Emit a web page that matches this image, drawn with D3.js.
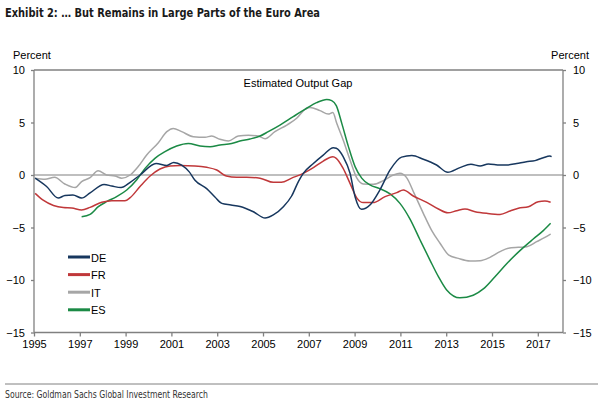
<!DOCTYPE html>
<html><head><meta charset="utf-8">
<script src="https://cdn.jsdelivr.net/npm/d3@7"></script>
<style>
body{margin:0;background:#fff;}
svg{display:block;}
.ax{font-family:"Liberation Sans",Arial,sans-serif;font-size:11px;fill:#000;}
</style></head>
<body><svg id="c" width="603" height="403"></svg>
<script>
const deData=[[1995.05,-0.3],[1995.55,-1.1],[1996.06,-2.2],[1996.35,-1.95],[1996.7,-1.9],[1997.08,-2.2],[1997.45,-1.7],[1998.06,-0.9],[1998.4,-1.05],[1998.8,-1.2],[1999.2,-0.7],[1999.63,0],[2000.33,1.1],[2000.8,0.9],[2001.1,1.2],[2001.45,0.95],[2001.78,0.3],[2002.03,-0.5],[2002.54,-1.3],[2002.9,-2.1],[2003.2,-2.7],[2003.6,-2.85],[2004.0,-3.0],[2004.58,-3.5],[2005.09,-4.1],[2005.45,-3.8],[2005.9,-3.0],[2006.25,-2.0],[2006.55,-0.6],[2006.76,0.16],[2007.2,1.1],[2007.63,1.9],[2008.07,2.6],[2008.2,2.55],[2008.5,1.75],[2008.8,0.16],[2009.02,-2.07],[2009.3,-3.27],[2009.67,-2.86],[2010.1,-1.43],[2010.55,0.48],[2011.05,1.7],[2011.5,1.85],[2012.0,1.5],[2012.58,0.95],[2013.07,0.26],[2013.6,0.7],[2014.08,1.02],[2014.48,0.86],[2014.84,1.05],[2015.35,0.95],[2015.64,0.95],[2016.08,1.1],[2016.5,1.27],[2016.88,1.37],[2017.24,1.65],[2017.53,1.8],[2017.6,1.74]];
const frData=[[1995.05,-1.75],[1995.4,-2.4],[1995.85,-2.9],[1996.28,-3.1],[1996.65,-3.14],[1997.08,-3.33],[1997.45,-3.08],[1997.96,-2.6],[1998.4,-2.45],[1998.97,-2.45],[1999.2,-2.16],[1999.63,-1.1],[2000.07,-0.1],[2000.5,0.57],[2000.94,0.86],[2001.38,0.9],[2002.03,0.86],[2002.54,0.73],[2002.98,0.48],[2003.4,-0.1],[2003.85,-0.22],[2004.29,-0.22],[2004.87,-0.3],[2005.45,-0.7],[2005.8,-0.7],[2006.25,-0.3],[2006.76,0.16],[2007.2,0.7],[2007.63,1.33],[2008.05,1.74],[2008.2,1.59],[2008.5,0.63],[2008.8,-0.8],[2009.1,-2.2],[2009.38,-2.63],[2009.8,-2.63],[2010.33,-2.06],[2010.84,-1.68],[2011.13,-1.43],[2011.56,-2.0],[2012.15,-2.6],[2012.66,-3.24],[2013.07,-3.6],[2013.46,-3.4],[2013.82,-3.24],[2014.26,-3.49],[2014.77,-3.65],[2015.35,-3.75],[2015.79,-3.43],[2016.15,-3.17],[2016.59,-3.02],[2017.02,-2.54],[2017.31,-2.48],[2017.56,-2.6]];
const itData=[[1995.05,-0.3],[1995.48,-0.4],[1995.9,-0.22],[1996.35,-0.86],[1996.8,-1.2],[1997.08,-0.63],[1997.45,-0.25],[1997.8,0.4],[1998.17,0],[1998.54,-0.1],[1998.83,-0.3],[1999.2,0],[1999.55,0.8],[1999.92,1.9],[2000.43,3.08],[2000.8,4.13],[2001.08,4.44],[2001.45,4.13],[2001.96,3.65],[2002.47,3.6],[2002.76,3.71],[2003.12,3.4],[2003.49,3.24],[2003.92,3.71],[2004.36,3.78],[2004.8,3.71],[2005.09,3.45],[2005.52,4.13],[2006.04,4.76],[2006.47,5.4],[2006.83,6.25],[2007.05,6.44],[2007.49,6.13],[2007.85,5.8],[2008.05,5.95],[2008.22,4.92],[2008.5,3.33],[2008.8,1.43],[2009.1,-0.3],[2009.38,-0.86],[2009.82,-0.89],[2010.25,-0.54],[2010.69,0],[2010.98,0.16],[2011.27,-0.25],[2011.6,-1.75],[2012.0,-3.65],[2012.37,-5.3],[2012.73,-6.5],[2013.1,-7.6],[2013.53,-7.94],[2014.04,-8.19],[2014.48,-8.16],[2014.91,-7.84],[2015.35,-7.3],[2015.71,-6.98],[2016.15,-6.89],[2016.52,-6.83],[2016.95,-6.35],[2017.31,-5.94],[2017.56,-5.62]];
const esData=[[1997.08,-3.97],[1997.45,-3.75],[1997.81,-3.02],[1998.17,-2.54],[1998.61,-2.06],[1999.05,-1.43],[1999.48,-0.48],[1999.85,0.63],[2000.28,1.59],[2000.72,2.22],[2001.23,2.76],[2001.74,3.0],[2002.25,2.76],[2002.69,2.7],[2003.12,2.86],[2003.63,3.0],[2003.99,3.24],[2004.43,3.43],[2004.87,3.71],[2005.23,4.13],[2005.74,4.76],[2006.32,5.56],[2006.83,6.25],[2007.34,6.89],[2007.78,7.2],[2008.0,7.08],[2008.2,6.6],[2008.44,4.92],[2008.73,2.7],[2009.02,0.8],[2009.31,-0.3],[2009.67,-0.95],[2010.1,-1.3],[2010.55,-1.8],[2010.98,-2.7],[2011.42,-4.2],[2011.86,-6.19],[2012.29,-8.1],[2012.66,-9.68],[2013.02,-10.95],[2013.6,-11.7],[2014.18,-11.45],[2014.62,-10.85],[2015.13,-9.68],[2015.64,-8.45],[2016.22,-7.2],[2016.8,-6.1],[2017.24,-5.3],[2017.56,-4.6]];
const seriesNames=["DE","FR","IT","ES"];
const seriesColors=["#17375e","#c0383a","#a6a6a6","#1b8a45"];
const xTicks=[1995,1997,1999,2001,2003,2005,2007,2009,2011,2013,2015,2017];
const yTicks=[-15,-10,-5,0,5,10];
const allSeries=[deData,frData,itData,esData];

const svg=d3.select("#c");
const L=34,R=563,T=70,B=332.5;
const x=d3.scaleLinear().domain([1995,2018.1]).range([L,R]);
const y=d3.scaleLinear().domain([-15,10]).range([B,T]);
const grey="#808080";
const narrow='"Liberation Sans Narrow","DejaVu Sans Condensed",sans-serif';

svg.append("text").attr("x",5).attr("y",17).attr("font-family",narrow).attr("font-weight","bold")
  .attr("font-size",13).attr("fill","#1a1a1a").attr("textLength",315).attr("lengthAdjust","spacingAndGlyphs")
  .text("Exhibit 2: … But Remains in Large Parts of the Euro Area");

// axes
const gl=svg.append("g").attr("class","ax").attr("transform",`translate(${L},0)`)
  .call(d3.axisLeft(y).tickValues(yTicks).tickSize(3).tickPadding(6).tickFormat(d3.format("d")));
const gr=svg.append("g").attr("class","ax").attr("transform",`translate(${R},0)`)
  .call(d3.axisRight(y).tickValues(yTicks).tickSize(3).tickPadding(7).tickFormat(d3.format("d")));
const gb=svg.append("g").attr("class","ax").attr("transform",`translate(0,${B})`)
  .call(d3.axisBottom(x).tickValues(xTicks).tickSize(4).tickPadding(4).tickFormat(d3.format("d")));
[gl,gr,gb].forEach(g=>{g.selectAll("path,line").attr("stroke",grey).attr("stroke-width",1.3);
  g.selectAll("text").attr("font-family",'"Liberation Sans",Arial,sans-serif').attr("font-size",11).attr("fill","#000");
  g.select(".domain").attr("d",null);});
svg.append("line").attr("x1",L).attr("x2",L).attr("y1",T).attr("y2",B).attr("stroke",grey).attr("stroke-width",1.3);
svg.append("line").attr("x1",R).attr("x2",R).attr("y1",T).attr("y2",B).attr("stroke",grey).attr("stroke-width",1.3);
svg.append("line").attr("x1",L).attr("x2",R).attr("y1",T).attr("y2",T).attr("stroke",grey).attr("stroke-width",1.3);
svg.append("line").attr("x1",L).attr("x2",R).attr("y1",B).attr("y2",B).attr("stroke",grey).attr("stroke-width",1.3);
svg.append("line").attr("x1",L).attr("x2",R).attr("y1",y(0)).attr("y2",y(0)).attr("stroke",grey).attr("stroke-width",1.2);

svg.append("text").attr("class","ax").attr("x",13).attr("y",59).text("Percent");
svg.append("text").attr("class","ax").attr("x",589).attr("y",59).attr("text-anchor","end").text("Percent");
svg.append("text").attr("class","ax").attr("x",298).attr("y",87).attr("text-anchor","middle").text("Estimated Output Gap");

const line=d3.line().x(d=>x(d[0])).y(d=>y(d[1])).curve(d3.curveMonotoneX);
const drawOrder=[2,3,1,0];
drawOrder.forEach(i=>{
  svg.append("path").datum(allSeries[i]).attr("d",line).attr("fill","none")
    .attr("stroke",seriesColors[i]).attr("stroke-width",1.5).attr("stroke-linejoin","round");
});

// legend
seriesNames.forEach((n,i)=>{
  const ly=257+i*17.6;
  svg.append("line").attr("x1",68).attr("x2",90).attr("y1",ly).attr("y2",ly).attr("stroke",seriesColors[i]).attr("stroke-width",3);
  svg.append("text").attr("class","ax").attr("x",91).attr("y",ly+4.5).attr("font-size",12).text(n);
});

svg.append("line").attr("x1",5).attr("x2",598).attr("y1",384).attr("y2",384).attr("stroke","#808080").attr("stroke-width",1);
svg.append("text").attr("x",5).attr("y",398).attr("font-family",narrow).attr("font-size",10).attr("fill","#333")
  .attr("textLength",203).attr("lengthAdjust","spacingAndGlyphs")
  .text("Source: Goldman Sachs Global Investment Research");
</script></body></html>
